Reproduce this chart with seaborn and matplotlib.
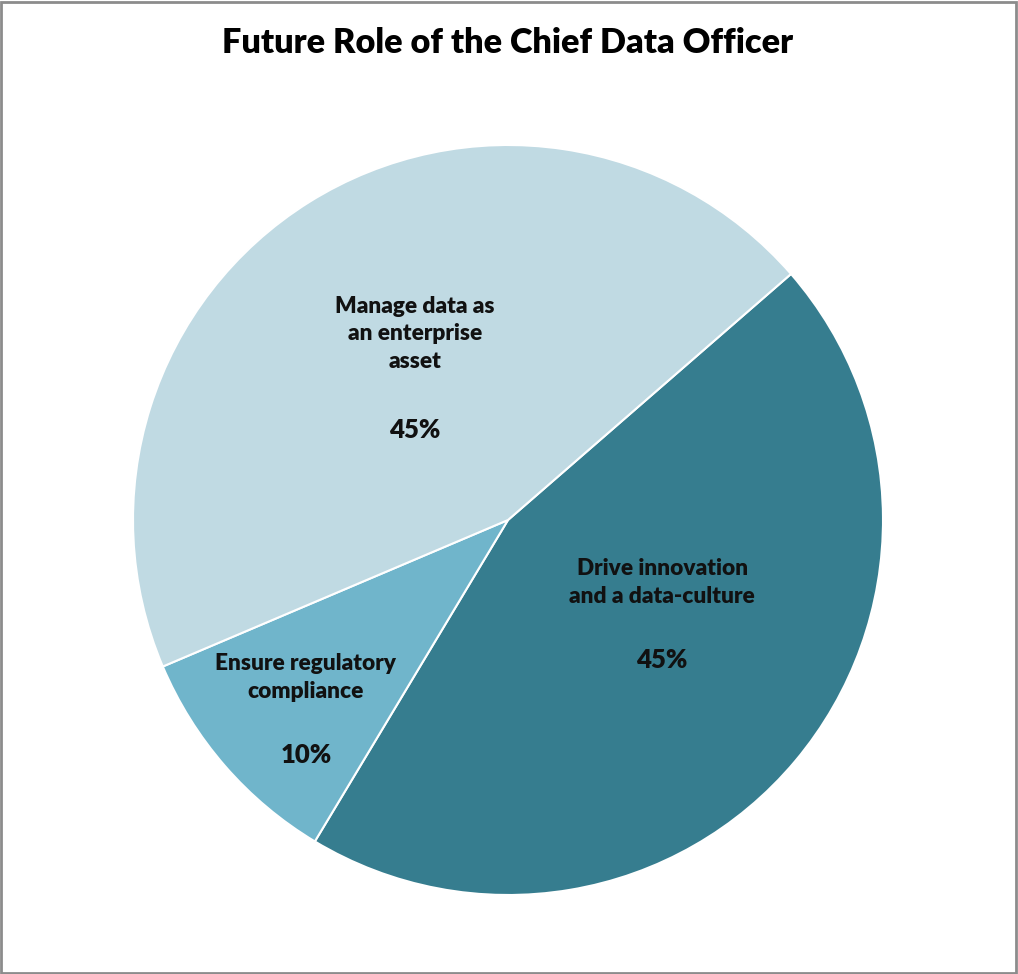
import matplotlib
matplotlib.use("Agg")
import matplotlib.pyplot as plt
import seaborn as sns
from matplotlib.patches import Rectangle

# data, in drawing order (clockwise from upper right)
roles = ["Drive innovation\nand a data-culture", "Ensure regulatory\ncompliance", "Manage data as\nan enterprise\nasset"]
shares = [45, 10, 45]
colors = ["#367D8F", "#70B5CB", "#C0DAE3"]

# where Excel put the label blocks (pie units) -> name block, then percentage
name_pos = [(0.411, -0.167), (-0.539, -0.419), (-0.248, 0.496)]
pct_pos = [(0.411, -0.373), (-0.539, -0.627), (-0.248, 0.240)]

sns.set_theme(style="white")
plt.rcParams["font.family"] = ["Lato", "DejaVu Sans"]

W, H = 1018, 974
fig = plt.figure(figsize=(W / 100, H / 100), dpi=100)
fig.patch.set_facecolor("white")

cx, cy, r = 508, 520, 375
ax = fig.add_axes([(cx - r) / W, (H - cy - r) / H, 2 * r / W, 2 * r / H])
ax.pie(shares, colors=colors, startangle=41, counterclock=False, radius=1,
       wedgeprops=dict(edgecolor="white", linewidth=1.5))
ax.set_xlim(-1, 1)
ax.set_ylim(-1, 1)
ax.set_aspect("equal")
ax.axis("off")

for name, share, npos, ppos in zip(roles, shares, name_pos, pct_pos):
    ax.text(npos[0], npos[1], name, ha="center", va="center", fontsize=16.3,
            fontweight="heavy", color="#111111", linespacing=1.4)
    ax.text(ppos[0], ppos[1], f"{share}%", ha="center", va="center", fontsize=18.5,
            fontweight="heavy", color="#111111")

fig.text(508 / W, 1 - 43 / H, "Future Role of the Chief Data Officer", ha="center", va="center",
         fontsize=24.7, fontweight="heavy", color="black")

fig.patches.append(Rectangle((0.001, 0.001), 0.997, 0.997, transform=fig.transFigure,
                             fill=False, edgecolor="#8C8C8C", linewidth=2))

fig.savefig("out.png", dpi=100)
